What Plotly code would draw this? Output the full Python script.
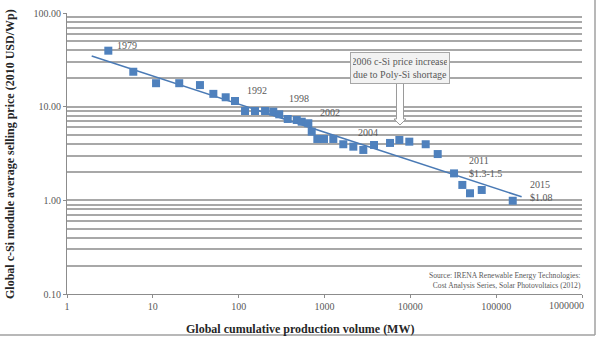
import plotly.graph_objects as go
import math

# ---- data ----
volume_mw = [3.03, 5.92, 10.9, 20.3, 35.4, 50.7, 70.6, 90.6, 118.6, 155, 203, 253, 297, 373,
             475, 543, 648, 710, 825, 987, 1267, 1656, 2167, 2833, 3776, 5800, 7447, 9727,
             15100, 20840, 32300, 40350, 49550, 67900, 156000]
price_usd = [39.6, 23.6, 17.8, 17.8, 17.0, 13.7, 12.6, 11.5, 8.99, 8.99, 8.99, 8.84, 8.29, 7.39,
             7.21, 6.91, 6.65, 5.41, 4.52, 4.52, 4.52, 3.97, 3.74, 3.45, 3.90, 4.10, 4.41, 4.23,
             3.97, 3.12, 1.94, 1.46, 1.19, 1.29, 0.99]
trend_x = [1.94, 198000]
trend_y = [34.8, 1.09]

label_text = ["1979", "1992", "1998", "2002", "2004", "2011<br>$1.3-1.5", "2015<br>$1.08"]
label_x = [3.63, 118.6, 366, 840, 2330, 45750, 235000]
label_y = [45.5, 14.7, 12.1, 8.56, 5.36, 2.27, 1.27]

y_tickvals = [0.1, 1, 10, 100]
y_ticktext = ["0.10", "1.00", "10.00", "100.00"]
x_tickvals = [1, 10, 100, 1000, 10000, 100000, 1000000]
x_ticktext = ["1", "10", "100", "1000", "10000", "100000", ""]
last_x_label = "1000000"
y_minor = [m * d for d in (0.1, 1, 10) for m in range(2, 10)]

W, H = 600, 342
L, R, T, B = 67, 18, 13, 48
PW, PH = W - L - R, H - T - B

def px(xp):
    return (xp - L) / PW

def py(yp):
    return (H - B - yp) / PH

SERIF = "Liberation Serif"
BLUE = "#4F81BD"
GRID = "#a8a8a8"
TXT = "#595959"

fig = go.Figure()
fig.add_trace(go.Scatter(x=trend_x, y=trend_y, mode="lines",
                         line=dict(color="#4a7ab5", width=1.5), hoverinfo="skip"))
fig.add_trace(go.Scatter(x=volume_mw, y=price_usd, mode="markers",
                         marker=dict(symbol="square", size=8, color=BLUE, line=dict(width=0))))

annotations = []
for t, lx, ly in zip(label_text, label_x, label_y):
    annotations.append(dict(x=math.log10(lx), y=math.log10(ly), xref="x", yref="y", text=t,
                            showarrow=False, xanchor="left", yanchor="middle", align="left",
                            font=dict(family=SERIF, size=10, color=TXT)))

annotations.append(dict(x=px(566), y=py(298), xref="paper", yref="paper", text=last_x_label,
                        showarrow=False, xanchor="center", yanchor="top",
                        font=dict(family=SERIF, size=10, color=TXT)))
annotations.append(dict(x=px(400), y=py(67.5), xref="paper", yref="paper",
                        text="2006 c-Si price increase<br>due to Poly-Si shortage",
                        showarrow=False, xanchor="center", yanchor="middle",
                        font=dict(family=SERIF, size=10, color=TXT),
                        bgcolor="#f2f2f2", bordercolor="#a6a6a6", borderwidth=1, borderpad=2,
                        width=94, height=26))
annotations.append(dict(x=px(583), y=py(280), xref="paper", yref="paper",
                        text="Source: IRENA Renewable Energy Technologies:<br>Cost Analysis Series, Solar Photovoltaics (2012)",
                        showarrow=False, xanchor="right", yanchor="middle", align="right",
                        font=dict(family=SERIF, size=7.6, color=TXT)))
annotations.append(dict(x=px(300), y=py(329), xref="paper", yref="paper",
                        text="<b>Global cumulative production volume (MW)</b>",
                        showarrow=False, xanchor="center", yanchor="middle",
                        font=dict(family=SERIF, size=12, color="#262626")))
annotations.append(dict(x=px(10), y=py(154), xref="paper", yref="paper",
                        text="<b>Global c-Si module average selling price (2010 USD/Wp)</b>",
                        showarrow=False, xanchor="center", yanchor="middle", textangle=-90,
                        font=dict(family=SERIF, size=12, color="#262626")))

# hollow block arrow from callout box
ax = [396.5, 403.5, 403.5, 406, 400, 394, 396.5]
ay = [83.5, 83.5, 119, 119, 125, 119, 119]
path = "M " + " L ".join(f"{px(a):.4f},{py(b):.4f}" for a, b in zip(ax, ay)) + " Z"
shapes = [
    dict(type="path", path=path, xref="paper", yref="paper",
         fillcolor="white", line=dict(color="#9a9a9a", width=1)),
    dict(type="line", xref="paper", yref="paper", x0=px(595), x1=px(595), y0=py(-2), y1=py(335),
         line=dict(color="#a0a0a0", width=1.5)),
    dict(type="line", xref="paper", yref="paper", x0=px(-2), x1=px(595), y0=py(335), y1=py(335),
         line=dict(color="#a0a0a0", width=1.5)),
]

fig.update_layout(
    width=W, height=H, margin=dict(l=L, r=R, t=T, b=B),
    paper_bgcolor="white", plot_bgcolor="white", showlegend=False,
    annotations=annotations, shapes=shapes,
    xaxis=dict(type="log", range=[0, 6], tickvals=x_tickvals, ticktext=x_ticktext,
               automargin=False,
               showgrid=False, zeroline=False, showline=True, linecolor="#8c8c8c", linewidth=1,
               ticks="outside", ticklen=3, tickcolor="#8c8c8c",
               tickfont=dict(family=SERIF, size=10, color=TXT)),
    yaxis=dict(type="log", range=[-1, 2], tickvals=y_tickvals, ticktext=y_ticktext,
               automargin=False,
               showgrid=True, gridcolor=GRID, gridwidth=1.5, zeroline=False,
               showline=True, linecolor="#8c8c8c", linewidth=1,
               ticks="outside", ticklen=3, tickcolor="#8c8c8c",
               tickfont=dict(family=SERIF, size=10, color=TXT),
               minor=dict(tickvals=y_minor, showgrid=True, gridcolor=GRID, gridwidth=1.5, ticks="")),
)

fig.write_html("out.html")
